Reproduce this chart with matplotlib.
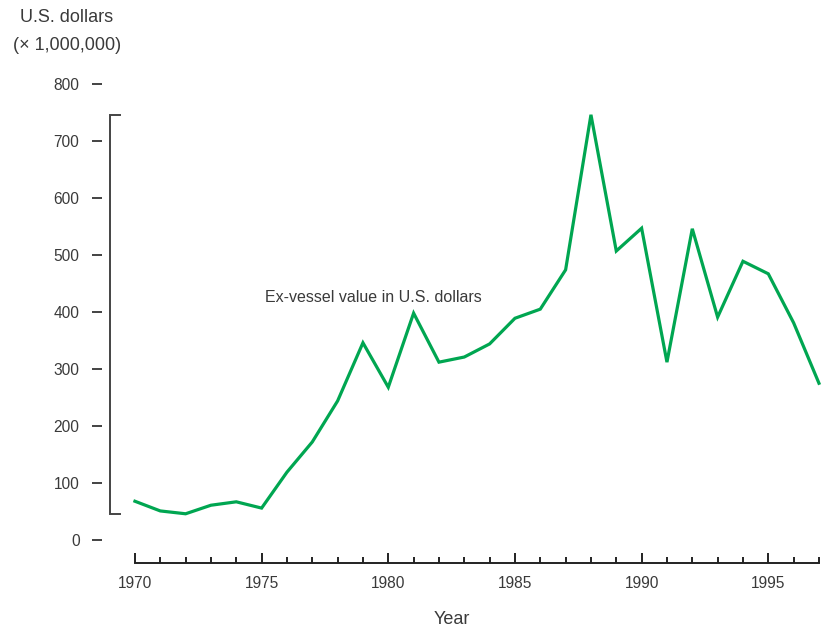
import matplotlib
matplotlib.use("Agg")
import matplotlib.pyplot as plt
from matplotlib.ticker import FixedLocator
import matplotlib.transforms as mtransforms

years = list(range(1970, 1998))
values = [68, 51, 46, 61, 67, 56, 119, 172, 244, 346, 268, 398, 312, 321, 344,
          389, 405, 474, 746, 507, 547, 312, 546, 391, 489, 467, 381, 275]
y_ticks = [0, 100, 200, 300, 400, 500, 600, 700, 800]
x_labels = [1970, 1975, 1980, 1985, 1990, 1995]

plt.rcParams['font.family'] = ['Liberation Sans', 'DejaVu Sans']
TXT = '#3a3a3a'
GREEN = '#00A651'

fig = plt.figure(figsize=(8.25, 6.27), dpi=100)
W, H = 825, 627
left, right, bottom, top = 102, 822, 563, 84
ax = fig.add_axes([left / W, 1 - bottom / H, (right - left) / W, (bottom - top) / H])

ax.plot(years, values, color=GREEN, lw=2.3, solid_joinstyle='miter', clip_on=False)

ax.set_ylim(-40.35, 800)
ax.set_xlim(1968.70, 1997.12)

for s in ['top', 'right', 'left']:
    ax.spines[s].set_visible(False)
ax.spines['bottom'].set_bounds(years[0], years[-1])
ax.spines['bottom'].set_linewidth(1.4)
ax.spines['bottom'].set_color('#222222')

ax.set_yticks(y_ticks)
ax.tick_params(axis='y', direction='out', length=7.2, width=1.2, color='#222222',
               labelsize=11.2, labelcolor=TXT, pad=9)
ax.set_xticks(x_labels)
ax.xaxis.set_minor_locator(FixedLocator(years))
ax.tick_params(axis='x', which='major', direction='in', length=7, width=1.4,
               color='#222222', labelsize=11.2, labelcolor=TXT, pad=9)
ax.tick_params(axis='x', which='minor', direction='in', length=4.3, width=1.4,
               color='#222222')

# range-frame bracket spanning data min to max
trans = mtransforms.blended_transform_factory(ax.transAxes, ax.transData)
bx0 = (110 - left) / (right - left)
bx1 = (120 - left) / (right - left)
ymin, ymax = min(values), max(values)
ax.plot([bx1, bx0, bx0, bx1], [ymax, ymax, ymin, ymin], transform=trans,
        color='#444444', lw=1.4, clip_on=False, solid_joinstyle='miter')

ax.text(1979.4, 425, 'Ex-vessel value in U.S. dollars', ha='center', va='center',
        fontsize=11.5, color=TXT)

fig.text(67 / W, 1 - 18 / H, 'U.S. dollars', ha='center', va='center',
         fontsize=13, color=TXT)
fig.text(67 / W, 1 - 45 / H, '(× 1,000,000)', ha='center', va='center',
         fontsize=13, color=TXT)
fig.text(452 / W, 1 - 619 / H, 'Year', ha='center', va='center', fontsize=13, color=TXT)

fig.savefig('out.png', dpi=100)
